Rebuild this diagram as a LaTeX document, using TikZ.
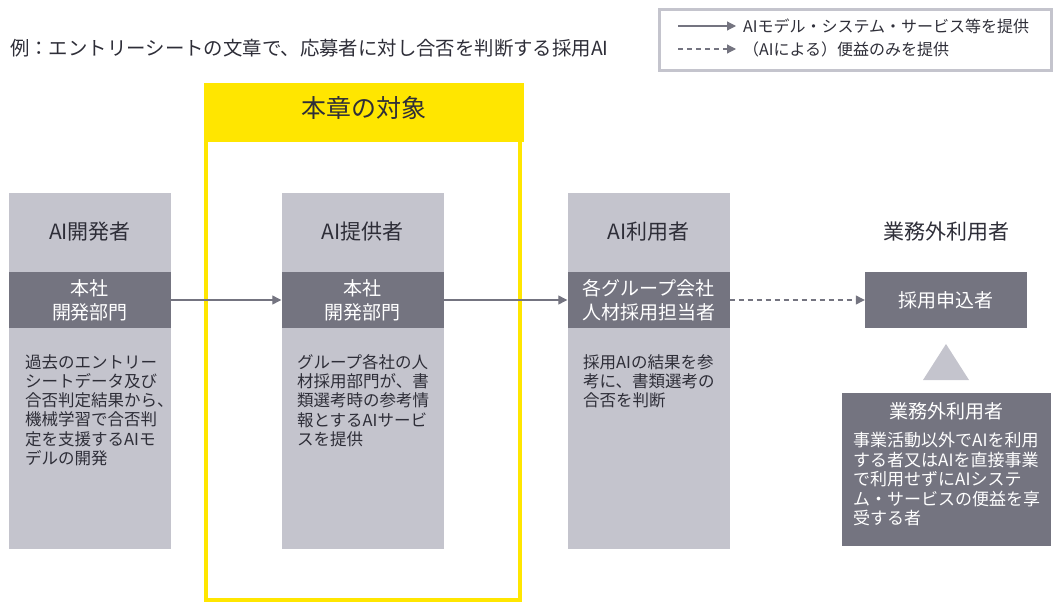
\documentclass[tikz,border=0pt]{standalone}
\usepackage{fontspec}
\setmainfont{Noto Sans CJK JP}
\usepackage{xcolor}
\usetikzlibrary{arrows.meta}
\definecolor{eyyellow}{HTML}{FFE600}
\definecolor{eydark}{HTML}{2E2E38}
\definecolor{eymid}{HTML}{747480}
\definecolor{eylight}{HTML}{C4C4CD}
\tikzset{
	colbox/.style={
		fill=eylight,
		minimum width=162pt,
		minimum height=356pt,
		inner sep=0
	},
	band/.style={
		fill=eymid,
		text=white,
		align=center,
		minimum width=162pt,
		minimum height=56pt,
		inner sep=0,
		font=\fontsize{19}{24}\selectfont
	}
}

\begin{document}
\begin{tikzpicture}[x=1pt,y=-1pt,
	colhead/.style={text=eydark,inner sep=0,font=\fontsize{21}{25}\selectfont},
	bodytext/.style={text=eydark,anchor=north west,align=left,inner sep=0,font=\fontsize{16.5}{19.3}\selectfont},
	conn/.style={eymid,line width=1.2pt,-{Triangle[length=9pt,width=9pt]}},
	dashconn/.style={conn,dash pattern=on 5pt off 4pt}]
	\useasboundingbox (0,0) rectangle (1061,610);

	% title and legend
	\node[anchor=west,inner sep=0,text=eydark,font=\fontsize{19.4}{22}\selectfont] (title) at (10,48) {例：エントリーシートの文章で、応募者に対し合否を判断する採用AI};
	\draw[eylight,line width=3pt] (659.5,9.5) rectangle (1051,71);
	\coordinate (solidA) at (678,26);
	\coordinate (solidB) at (736,26);
	\coordinate (dashA) at (678,49);
	\coordinate (dashB) at (736,49);
	\draw[conn] (solidA) -- (solidB);
	\draw[dashconn] (dashA) -- (dashB);
	\node[anchor=west,inner sep=0,text=eydark,font=\fontsize{16}{20}\selectfont] (solidlbl) at (743,26) {AIモデル・システム・サービス等を提供};
	\node[anchor=west,inner sep=0,text=eydark,font=\fontsize{16}{20}\selectfont] (dashlbl) at (743,49) {（AIによる）便益のみを提供};

	% scope of this chapter
	\draw[eyyellow,line width=4pt] (206,100) rectangle (520,600);
	\node[fill=eyyellow,minimum width=320pt,minimum height=59pt,inner sep=0] (scopehead) at (364,112.5) {};
	\node[text=eydark,inner sep=0,font=\fontsize{25}{30}\selectfont] (scopelbl) at (364,108) {本章の対象};

	% columns
	\node[colbox] (dev) at (90,371) {};
	\node[colbox] (prov) at (362.5,371) {};
	\node[colbox] (user) at (648.5,371) {};

	\node[colhead] (devhead) at (90,232) {AI開発者};
	\node[colhead] (provhead) at (362.5,232) {AI提供者};
	\node[colhead] (userhead) at (648.5,232) {AI利用者};
	\node[colhead] (outhead) at (946,232) {業務外利用者};

	\node[band] (devband) at (90,300) {本社\\開発部門};
	\node[band] (provband) at (362.5,300) {本社\\開発部門};
	\node[band] (userband) at (648.5,300) {各グループ会社\\人材採用担当者};
	\node[band] (applicant) at (946,300) {採用申込者};

	\node[bodytext] (devtext) at (25,354) {過去のエントリー\\シートデータ及び\\合否判定結果から、\\機械学習で合否判\\定を支援するAIモ\\デルの開発};
	\node[bodytext] (provtext) at (297,354) {グループ各社の人\\材採用部門が、書\\類選考時の参考情\\報とするAIサービ\\スを提供};
	\node[bodytext] (usertext) at (583,354) {採用AIの結果を参\\考に、書類選考の\\合否を判断};

	\draw[conn] (devband) -- (provband);
	\draw[conn] (provband) -- (userband);
	\draw[dashconn] (userband) -- (applicant);

	% non-business user
	\fill[eylight] (923,380) -- (946,344) -- (969,380) -- cycle;
	\node[fill=eymid,minimum width=209pt,minimum height=153pt,inner sep=0] (outsider) at (946.5,469.5) {};
	\node[text=white,inner sep=0,font=\fontsize{19}{24}\selectfont] (outtitle) at (946.5,411) {業務外利用者};
	\node[bodytext,text=white,font=\fontsize{17}{19.5}\selectfont] (outtext) at (853,432) {事業活動以外でAIを利用\\する者又はAIを直接事業\\\makebox[187pt][s]{で利用せずにAIシステ}\\\makebox[187pt][s]{ム・サービスの便益を享}\\受する者};
\end{tikzpicture}
\end{document}
